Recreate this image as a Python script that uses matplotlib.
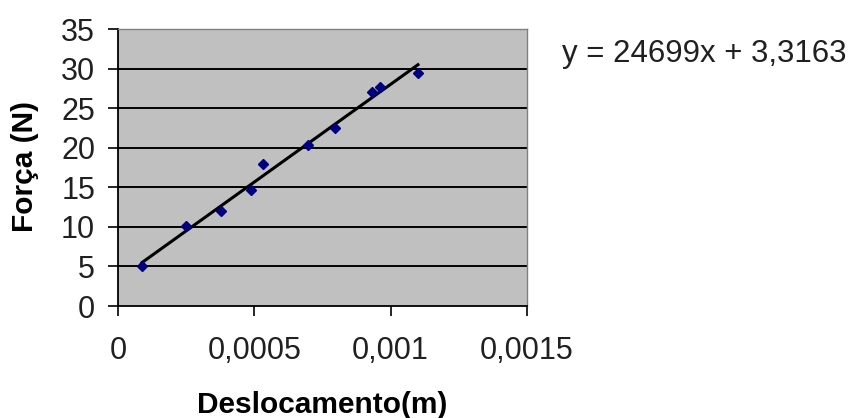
import matplotlib
matplotlib.use("Agg")
import matplotlib.pyplot as plt
import numpy as np

plt.rcParams['font.family'] = ['Liberation Sans', 'DejaVu Sans']

deslocamento = [0.000088, 0.000251, 0.000377, 0.000487, 0.000531,
                0.000696, 0.000795, 0.000932, 0.000960, 0.001100]
forca = [5.0, 10.1, 12.0, 14.7, 18.0, 20.4, 22.5, 27.0, 27.7, 29.4]
slope = 24699
intercept = 3.3163
x_ticks = [0, 0.0005, 0.001, 0.0015]
x_tick_labels = ["0", "0,0005", "0,001", "0,0015"]
y_ticks = [0, 5, 10, 15, 20, 25, 30, 35]
equation = "y = 24699x + 3,3163"

fig = plt.figure(figsize=(8.53, 4.18), dpi=100)
ax = fig.add_axes([118/853, 1 - 306/418, (527-118)/853, (306-29)/418])
ax.set_facecolor('#C0C0C0')

ax.set_xlim(0, 0.0015)
ax.set_ylim(0, 35)
for yv in y_ticks[1:-1]:
    ax.axhline(yv, color='black', lw=1.4, zorder=1)

xs = np.array([min(deslocamento), max(deslocamento)])
ax.plot(xs, slope * xs + intercept, color='black', lw=2.2, zorder=2)
ax.plot(deslocamento, forca, linestyle='none', marker='D', markersize=5.5,
        color='#000080', zorder=3)

ax.set_xticks(x_ticks)
ax.set_xticklabels(x_tick_labels)
ax.set_yticks(y_ticks)
ax.tick_params(axis='both', direction='out', length=7.5, width=1.2,
               labelsize=22, colors='black')
ax.tick_params(axis='x', pad=14)
ax.tick_params(axis='y', pad=9)
for lab in ax.get_xticklabels() + ax.get_yticklabels():
    lab.set_color('#202020')

for s in ['left', 'bottom']:
    ax.spines[s].set_color('black')
    ax.spines[s].set_linewidth(1.3)
for s in ['top', 'right']:
    ax.spines[s].set_color('#808080')
    ax.spines[s].set_linewidth(1.0)

ax.set_xlabel("Deslocamento(m)", fontsize=21.5, fontweight='bold')
ax.xaxis.label.set_va('baseline')
ax.xaxis.set_label_coords(0.5, (306 - 413) / 277)
ax.set_ylabel("Força (N)", fontsize=21.5, fontweight='bold')
ax.yaxis.label.set_va('center')
ax.yaxis.set_label_coords((25 - 118) / 409, (306 - 166) / 277)

fig.text(562/853, 1 - 62/418, equation, fontsize=22.5, va='baseline',
         ha='left', color='#202020')

fig.savefig("out.png", dpi=100)
